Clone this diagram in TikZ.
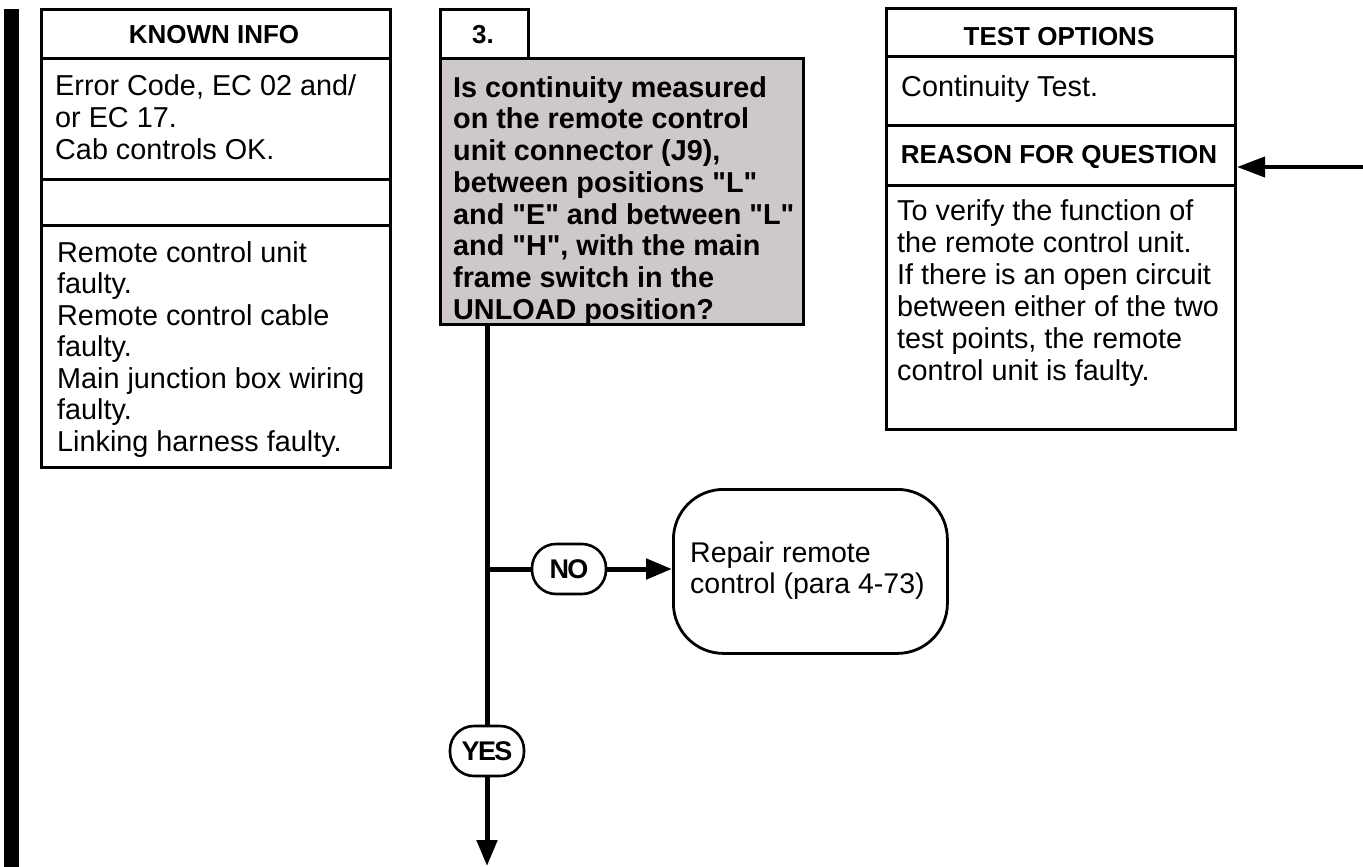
\documentclass[tikz,border=0pt]{standalone}
\usepackage{fontspec}
\setmainfont{Liberation Sans}[Ligatures=TeXOff]
\usetikzlibrary{arrows.meta,calc}
\newcommand\firststrut{\rule{0pt}{23pt}}
\definecolor{qgray}{RGB}{207,200,200}
\begin{document}
\begin{tikzpicture}[x=1pt,y=-1pt,
  box/.style={draw,line width=3pt,anchor=north west,inner sep=0pt},
  head/.style={anchor=base,inner sep=0pt,font=\fontsize{26}{30}\selectfont\bfseries},
  body/.style={anchor=north west,inner sep=0pt,align=left,font=\fontsize{28.8}{32}\selectfont},
  pill/.style={draw,line width=2.6pt,rounded corners=24pt,minimum width=74pt,minimum height=50pt,inner sep=0pt,fill=white,font=\fontsize{27}{30}\selectfont\bfseries\addfontfeature{LetterSpace=-6}},
  conn/.style={line width=5pt},
  tip/.style={-{Triangle[length=26pt,width=20pt]}}
]
\useasboundingbox (0,0) rectangle (1363,867);
% left bar
\fill (4,9) rectangle (19,867);
% KNOWN INFO column
\node[box,minimum width=349pt,minimum height=49pt] (kh) at (40,8) {};
\node[box,minimum width=349pt,minimum height=121pt] (k1) at (40,57) {};
\node[box,minimum width=349pt,minimum height=46pt] (k2) at (40,178) {};
\node[box,minimum width=349pt,minimum height=242pt] (k3) at (40,224) {};
\node[head] (khtxt) at (214,44) {KNOWN INFO};
\node[body] (k1txt) at (55,72) {\firststrut Error Code, EC 02 and/\\or EC 17.\\Cab controls OK.};
\node[body,font=\fontsize{28.8}{31.5}\selectfont] (k3txt) at (57,239) {\firststrut Remote control unit\\faulty.\\Remote control cable\\faulty.\\Main junction box wiring\\faulty.\\Linking harness faulty.};
% question
\node[box,minimum width=88pt,minimum height=49pt] (n3) at (439,8) {};
\node[head] (n3txt) at (483,44) {3.};
\node[box,fill=qgray,minimum width=363pt,minimum height=266pt] (q) at (439,57) {};
\node[body,font=\fontsize{28.8}{31.7}\selectfont\bfseries] (qtxt) at (453,74) {\firststrut Is continuity measured\\on the remote control\\unit connector (J9),\\between positions "L"\\and "E" and between "L"\\and "H", with the main\\frame switch in the\\UNLOAD position?};
% right column
\node[box,minimum width=349pt,minimum height=48pt] (th) at (885,7) {};
\node[box,minimum width=349pt,minimum height=69pt] (t1) at (885,55) {};
\node[box,minimum width=349pt,minimum height=60pt] (rh) at (885,124) {};
\node[box,minimum width=349pt,minimum height=244pt] (r1) at (885,184) {};
\node[head] (thtxt) at (1059,46) {TEST OPTIONS};
\node[body] (t1txt) at (901,73) {\firststrut Continuity Test.};
\node[head] (rhtxt) at (1059,163) {REASON FOR QUESTION};
\node[body] (r1txt) at (897,197) {\firststrut To verify the function of\\the remote control unit.\\If there is an open circuit\\between either of the two\\test points, the remote\\control unit is faulty.};
% repair
\node[draw,line width=2.8pt,rounded corners=50pt,minimum width=274pt,minimum height=164pt,anchor=north west,inner sep=0pt] (rep) at (672,488) {};
\node[body,font=\fontsize{28.5}{31}\selectfont] (reptxt) at (690,539) {\firststrut Repair remote\\control (para 4-73)};
% pills
\node[pill] (no) at (569,569) {NO};
\node[pill] (yes) at (487,751) {YES};
% connectors
\coordinate (qout) at (487,323);
\coordinate (br) at (487,569);
\coordinate (endpt) at (487,866);
\coordinate (rin) at (1363,167);
\draw[conn] (qout) -- (yes.north);
\draw[conn] (br) -- (no.west);
\draw[conn,tip] (no.east) -- (no.east -| rep.west);
\draw[conn,tip] (yes.south) -- (endpt);
\draw[line width=4pt,-{Triangle[length=28pt,width=20pt]}] (rin) -- (rin -| rh.east);
\end{tikzpicture}
\end{document}
